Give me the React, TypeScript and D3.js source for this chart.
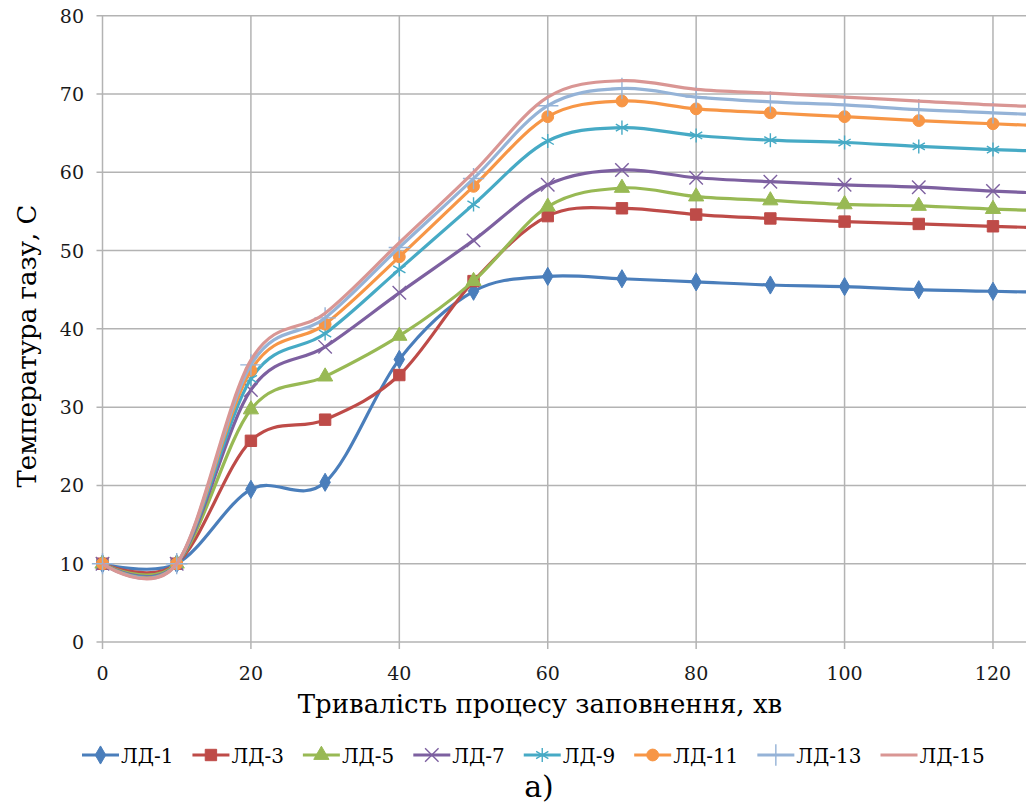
import { useEffect, useRef } from 'react';
import * as d3 from 'd3';

// time, minutes (last point lies just past the visible edge)
const minutes = [0, 10, 20, 30, 40, 50, 60, 70, 80, 90, 100, 110, 120, 130];

const ld1 = [10, 10, 19.5, 20.4, 36.1, 44.8, 46.7, 46.4, 46.0, 45.6, 45.4, 45.0, 44.8, 44.6];
const ld3 = [10, 10, 25.7, 28.4, 34.1, 46.1, 54.4, 55.4, 54.6, 54.1, 53.7, 53.4, 53.1, 52.8];
const ld5 = [10, 10, 29.7, 33.9, 39.1, 46.1, 55.6, 58.0, 56.9, 56.4, 55.9, 55.7, 55.3, 55.0];
const ld7 = [10, 10, 32.2, 37.7, 44.6, 51.3, 58.4, 60.3, 59.3, 58.8, 58.4, 58.1, 57.6, 57.2];
const ld9 = [10, 10, 33.6, 39.4, 47.6, 55.9, 64.0, 65.7, 64.7, 64.1, 63.8, 63.3, 62.9, 62.6];
const ld11 = [10, 10, 34.7, 40.6, 49.2, 58.2, 67.1, 69.1, 68.1, 67.6, 67.1, 66.6, 66.2, 65.8];
const ld13 = [10, 10, 35.4, 41.4, 50.4, 59.2, 68.5, 70.7, 69.6, 69.0, 68.6, 68.0, 67.6, 67.2];
const ld15 = [10, 10, 36.0, 42.0, 51.0, 60.0, 69.6, 71.7, 70.6, 70.1, 69.6, 69.1, 68.6, 68.3];

const seriesNames = ['ЛД-1', 'ЛД-3', 'ЛД-5', 'ЛД-7', 'ЛД-9', 'ЛД-11', 'ЛД-13', 'ЛД-15'];
const seriesValues = [ld1, ld3, ld5, ld7, ld9, ld11, ld13, ld15];
const seriesColors = ['#4a7ebb', '#be4b48', '#98b954', '#7d60a0', '#46aac5', '#f79646', '#95b3d7', '#d99694'];
const seriesMarkers = ['diamond', 'square', 'triangle', 'times', 'asterisk', 'circle', 'plus', 'none'];

const xTicks = [0, 20, 40, 60, 80, 100, 120];
const yTicks = [0, 10, 20, 30, 40, 50, 60, 70, 80];

const FONT = '"DejaVu Serif", "Liberation Serif", serif';

const markerSymbol = (name: string) => {
  switch (name) {
    case 'diamond': return d3.symbol(d3.symbolDiamond, 95);
    case 'square': return d3.symbol(d3.symbolSquare, 130);
    case 'triangle': return d3.symbol(d3.symbolTriangle, 100);
    case 'times': return d3.symbol(d3.symbolTimes, 120);
    case 'asterisk': return d3.symbol(d3.symbolAsterisk, 140);
    case 'circle': return d3.symbol(d3.symbolCircle, 110);
    case 'plus': return d3.symbol(d3.symbolPlus, 150);
    default: return null;
  }
};

const isStroked = (name: string) => name === 'times' || name === 'asterisk' || name === 'plus';

const Chart = () => {
  const svgRef = useRef<SVGSVGElement>(null);

  useEffect(() => {
    const width = 1026;
    const height = 807;
    const plot = { left: 102.5, right: 1026, top: 15.7, bottom: 642 };

    const svg = d3.select(svgRef.current)
      .attr('width', width)
      .attr('height', height)
      .style('font-family', FONT)
      .style('background-color', '#ffffff');

    svg.selectAll('*').remove();

    const x = d3.scaleLinear().domain([0, 124.45]).range([plot.left, plot.right]);
    const y = d3.scaleLinear().domain([0, 80]).range([plot.bottom, plot.top]);

    svg.append('defs').append('clipPath').attr('id', 'plot-clip')
      .append('rect')
      .attr('x', 0).attr('y', 0)
      .attr('width', plot.right).attr('height', height);

    // grid
    const grid = svg.append('g').attr('stroke', '#b3b3b3').attr('stroke-width', 1.5);
    grid.selectAll('.hg').data(yTicks).enter().append('line')
      .attr('x1', plot.left - 6).attr('x2', plot.right)
      .attr('y1', d => y(d)).attr('y2', d => y(d));
    grid.selectAll('.vg').data(xTicks).enter().append('line')
      .attr('x1', d => x(d)).attr('x2', d => x(d))
      .attr('y1', plot.top).attr('y2', plot.bottom + 7);

    // tick labels
    svg.append('g').selectAll('text').data(yTicks).enter().append('text')
      .attr('x', 84).attr('y', d => y(d) + 7)
      .attr('text-anchor', 'end')
      .style('font-size', '19px').attr('fill', '#1a1a1a')
      .text(d => d);

    svg.append('g').selectAll('text').data(xTicks).enter().append('text')
      .attr('x', d => x(d)).attr('y', 680)
      .attr('text-anchor', 'middle')
      .style('font-size', '19px').attr('fill', '#1a1a1a')
      .text(d => d);

    // series
    const line = d3.line<number>()
      .x((d, i) => x(minutes[i]))
      .y(d => y(d))
      .curve(d3.curveCardinal.tension(0));

    const series = svg.append('g').attr('clip-path', 'url(#plot-clip)');
    seriesValues.forEach((vals, si) => {
      const color = seriesColors[si];
      series.append('path')
        .datum(vals)
        .attr('fill', 'none')
        .attr('stroke', color)
        .attr('stroke-width', 3.2)
        .attr('stroke-linejoin', 'round')
        .attr('d', line);

      const sym = markerSymbol(seriesMarkers[si]);
      if (sym) {
        const stroked = isStroked(seriesMarkers[si]);
        series.append('g').selectAll('path').data(vals).enter().append('path')
          .attr('transform', (d, i) => `translate(${x(minutes[i])},${y(d)})`)
          .attr('d', sym())
          .attr('fill', stroked ? 'none' : color)
          .attr('stroke', color)
          .attr('stroke-width', stroked ? 1.4 : 1);
      }
    });

    // axis titles
    svg.append('text')
      .attr('x', 540).attr('y', 713)
      .attr('text-anchor', 'middle')
      .style('font-size', '26px').attr('fill', '#000')
      .text('Тривалість процесу заповнення, хв');

    svg.append('text')
      .attr('transform', 'translate(36,346)rotate(-90)')
      .attr('text-anchor', 'middle')
      .style('font-size', '26px').attr('fill', '#000')
      .text('Температура газу, С');

    // legend
    const legend = svg.append('g');
    let lx = 82;
    seriesNames.forEach((name, si) => {
      const color = seriesColors[si];
      const item = legend.append('g');
      item.append('line')
        .attr('x1', lx).attr('x2', lx + 37)
        .attr('y1', 755).attr('y2', 755)
        .attr('stroke', color).attr('stroke-width', 3);
      const sym = markerSymbol(seriesMarkers[si]);
      if (sym) {
        const stroked = isStroked(seriesMarkers[si]);
        item.append('path')
          .attr('transform', `translate(${lx + 18.5},755)`)
          .attr('d', sym())
          .attr('fill', stroked ? 'none' : color)
          .attr('stroke', color)
          .attr('stroke-width', stroked ? 1.4 : 1);
      }
      const t = item.append('text')
        .attr('x', lx + 39).attr('y', 763)
        .style('font-size', '20px').attr('fill', '#000')
        .text(name);
      const w = (t.node() as SVGTextElement).getComputedTextLength();
      lx = lx + 39 + w + 19;
    });

    svg.append('text')
      .attr('x', 539).attr('y', 797)
      .attr('text-anchor', 'middle')
      .style('font-size', '30px').attr('fill', '#000')
      .text('а)');
  }, []);

  return <svg ref={svgRef} style={{ position: 'absolute', left: 0, top: 0 }}></svg>;
};

export default function App() {
  return <Chart />;
}
